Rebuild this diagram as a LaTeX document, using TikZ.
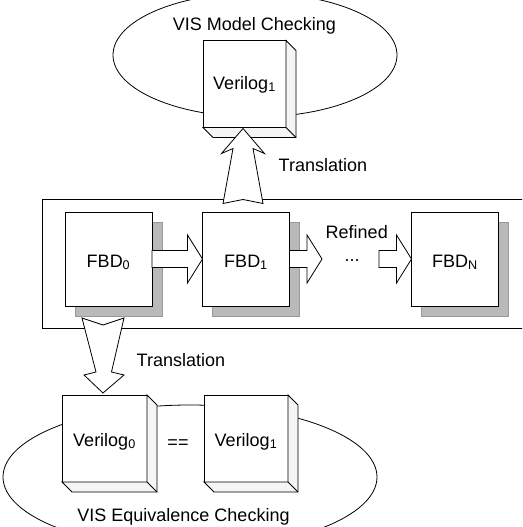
\documentclass[tikz,border=0pt]{standalone}
\usepackage{fontspec}
\setmainfont{Liberation Sans}
\usetikzlibrary{calc,shadows}

% faces of a raised block: right side and bottom, 10pt deep
\newcommand\blockfaces[1]{%
  \filldraw[face] (#1.north east) -- ++(10,10) -- ($(#1.south east)+(10,10)$)
    -- ($(#1.south west)+(10,10)$) -- (#1.south west) -- (#1.south east) -- cycle;
  \draw (#1.south east) -- ++(10,10);
}

\begin{document}
\begin{tikzpicture}[x=1pt,y=-1pt,line width=0.8pt,
  every node/.style={font=\fontsize{18}{21}\selectfont},
  face/.style={fill=gray!8,draw=black},
  fbd/.style={draw,fill=white,minimum width=87pt,minimum height=94pt,
    inner sep=0pt,outer sep=0pt,text height=16pt,text depth=0pt,
    general shadow={shadow xshift=10pt,shadow yshift=-10pt,
      fill=gray!55,draw=gray!80}},
  vlog/.style={draw,fill=white,minimum height=87pt,
    inner sep=0pt,outer sep=0pt,text height=15pt,text depth=0pt},
  blockarrow/.style={draw,fill=white,line join=miter}]

\useasboundingbox (0,0) rectangle (522,527);
\clip (0,0) rectangle (522,527);

% the two checking regions
\draw (255,55) ellipse [x radius=142,y radius=62];
\draw (190,477) ellipse [x radius=187,y radius=72];

% frame round the refinement chain
\draw (530,199) -- (42,199) -- (42,328) -- (530,328);

% refinement chain
\node[fbd] (f0) at (108.5,259) {FBD\textsubscript{0}};
\node[fbd] (f1) at (246,259) {FBD\textsubscript{1}};
\node[fbd] (fN) at (455,259) {FBD\textsubscript{N}};

% Verilog models
\node[vlog,minimum width=83pt,text height=10pt] (vt) at (244.5,84) {Verilog\textsubscript{1}};
\blockfaces{vt}
\node[vlog,minimum width=85pt] (v0) at (104.5,438.5) {Verilog\textsubscript{0}};
\blockfaces{v0}
\node[vlog,minimum width=84pt] (v1) at (246,438.5) {Verilog\textsubscript{1}};
\blockfaces{v1}

% refinement arrows
\coordinate (r1) at (322,259);
\coordinate (r2) at (379,259);
\draw[blockarrow] ($(f0.east)+(0,-8.5)$) -- ($(f1.west)+(-15,-8.5)$)
  -- ($(f1.west)+(-15,-24)$) -- (f1.west) -- ($(f1.west)+(-15,24)$)
  -- ($(f1.west)+(-15,8.5)$) -- ($(f0.east)+(0,8.5)$) -- cycle;
\draw[blockarrow] ($(f1.east)+(0,-8.5)$) -- ($(r1)+(-15,-8.5)$)
  -- ($(r1)+(-15,-24)$) -- (r1) -- ($(r1)+(-15,24)$)
  -- ($(r1)+(-15,8.5)$) -- ($(f1.east)+(0,8.5)$) -- cycle;
\draw[blockarrow] ($(r2)+(0,-8.5)$) -- ($(fN.west)+(-15,-8.5)$)
  -- ($(fN.west)+(-15,-24)$) -- (fN.west) -- ($(fN.west)+(-15,24)$)
  -- ($(fN.west)+(-15,8.5)$) -- ($(r2)+(0,8.5)$) -- cycle;

% translation arrows
\draw[blockarrow] ($(vt.south)+(-1.5,1)$) coordinate (ut)
  -- ($(ut)+(21.5,25)$) -- ($(ut)+(10,20)$) -- ($(ut)+(20,75)$)
  -- ($(ut)+(0,71)$) -- ($(ut)+(-20,75)$) -- ($(ut)+(-10,20)$)
  -- ($(ut)+(-21.5,25)$) -- cycle;
\draw[blockarrow] ($(v0.north)+(-1.5,-2)$) coordinate (dt)
  -- ($(dt)+(21,-18)$) -- ($(dt)+(8.5,-21)$) -- ($(dt)+(21,-75)$)
  -- ($(dt)+(0,-68)$) -- ($(dt)+(-21,-75)$) -- ($(dt)+(-7,-21)$)
  -- ($(dt)+(-19,-18)$) -- cycle;

% labels
\node[anchor=base] (mc) at (254.5,31) {VIS Model Checking};
\node[anchor=base west] (tr1) at (275,171) {Translation};
\node[anchor=base west] (rf) at (322,238) {Refined};
\node[anchor=base] (dots) at (352,261) {...};
\node[anchor=base west] (tr2) at (133,366) {Translation};
\node (eq) at (178,444) {==};
\node[anchor=base] (ec) at (183.5,521) {VIS Equivalence Checking};
\end{tikzpicture}
\end{document}
